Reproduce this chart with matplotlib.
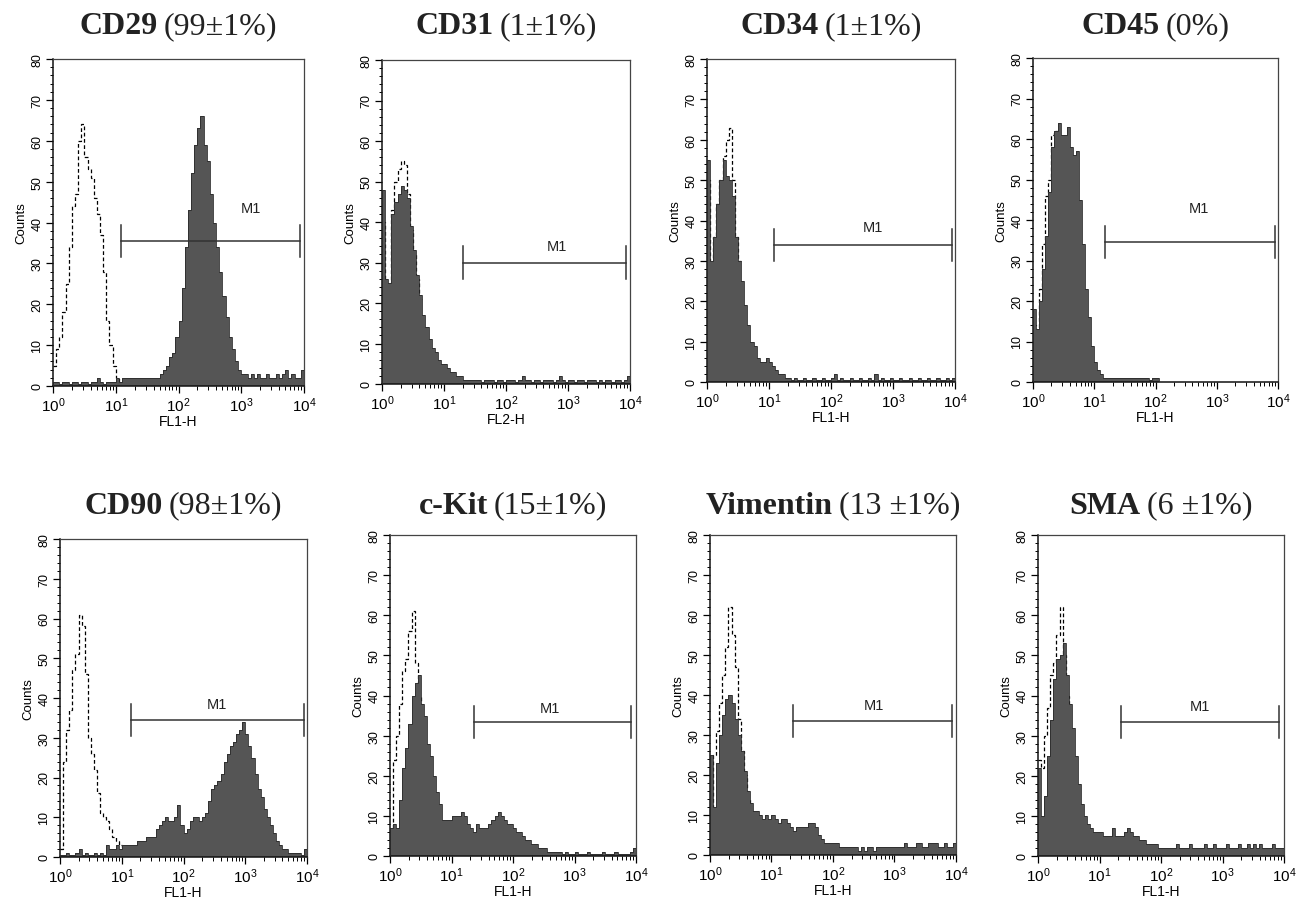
#!/usr/bin/env python3
"""Flow cytometry histograms: surface marker panel (2 x 4)."""

import matplotlib
matplotlib.use("Agg")
import matplotlib.pyplot as plt
import numpy as np
from matplotlib.ticker import FixedLocator, LogLocator, FuncFormatter, NullFormatter

# ---- data -----------------------------------------------------------------
MARKERS = ["CD29", "CD31", "CD34", "CD45", "CD90", "c-Kit", "Vimentin", "SMA"]
PERCENT = ["(99\u00b11%)", "(1\u00b11%)", "(1\u00b11%)", "(0%)",
           "(98\u00b11%)", "(15\u00b11%)", "(13 \u00b11%)", "(6 \u00b11%)"]
CHANNEL = ["FL1-H", "FL2-H", "FL1-H", "FL1-H", "FL1-H", "FL1-H", "FL1-H", "FL1-H"]

# counts per log channel (80 channels over 10^0 .. 10^4), stained sample
STAINED = [
    [1, 1, 0.5, 1, 1, 0.5, 1, 1, 0.5, 1, 1, 0.5, 1, 1, 2, 1, 0.5, 1, 1, 1,
     2, 1, 2, 2, 2, 2, 2, 2, 2, 2, 2, 2, 2, 2, 3, 4, 5, 7, 8, 12,
     16, 24, 34, 43, 52, 59, 63, 66, 59, 55, 47, 40, 34, 28, 22, 17, 12, 9, 6, 4,
     3, 3, 2, 3, 2, 3, 2, 2, 3, 2, 2, 3, 2, 3, 4, 2, 3, 2, 2, 4],
    [48, 26, 25, 42, 45, 47, 49, 48, 46, 39, 33, 27, 22, 17, 14, 11, 9, 8, 6, 5,
     5, 4, 3, 3, 2, 2, 1, 1, 1, 1, 1, 1, 0.5, 1, 1, 1, 0.5, 1, 1, 0.5,
     1, 1, 1, 0.5, 1, 2, 1, 1, 0.5, 1, 1, 0.5, 1, 1, 1, 0.5, 1, 2, 1, 0.5,
     1, 1, 0.5, 1, 1, 0.5, 1, 1, 1, 0.5, 1, 0.5, 1, 1, 0.5, 1, 1, 0.5, 1, 2],
    [55, 30, 36, 44, 50, 55, 51, 50, 46, 36, 30, 25, 19, 14, 10, 9, 6, 5, 5, 6,
     5, 4, 3, 2, 2, 1, 1, 0.5, 1, 0.5, 0.5, 1, 0.5, 0.5, 1, 0.5, 0.5, 1, 0.5, 0.5,
     1, 2, 0.5, 1, 0.5, 0.5, 1, 0.5, 0.5, 1, 0.5, 0.5, 1, 0.5, 2, 0.5, 1, 0.5, 0.5, 1,
     0.5, 0.5, 1, 0.5, 0.5, 1, 0.5, 0.5, 1, 0.5, 0.5, 1, 0.5, 0.5, 1, 0.5, 0.5, 1, 0.5, 1],
    [18, 13, 20, 28, 36, 47, 58, 62, 64, 61, 61, 63, 58, 56, 57, 45, 34, 23, 16, 9,
     5, 3, 2, 1, 1, 1, 1, 1, 1, 1, 1, 1, 1, 1, 1, 1, 1, 1, 0.5, 1,
     1, 0, 0, 0, 0, 0, 0, 0, 0, 0, 0, 0, 0, 0, 0, 0, 0, 0, 0, 0,
     0, 0, 0, 0, 0, 0, 0, 0, 0, 0, 0, 0, 0, 0, 0, 0, 0, 0, 0, 0],
    [0.5, 0.5, 1, 0.5, 0.5, 1, 2, 0.5, 1, 0.5, 0.5, 1, 0.5, 1, 0.5, 3, 2, 2, 3, 2,
     3, 3, 3, 3, 3, 4, 4, 4, 5, 5, 5, 7, 8, 9, 10, 9, 9, 10, 13, 8,
     6, 7, 9, 10, 10, 9, 10, 11, 14, 17, 18, 19, 21, 24, 26, 28, 29, 31, 32, 34,
     31, 28, 25, 21, 17, 15, 12, 10, 8, 6, 4, 3, 2, 2, 1, 1, 1, 1, 0.5, 2],
    [7, 8, 7, 14, 22, 27, 33, 40, 43, 45, 38, 35, 28, 25, 20, 16, 13, 9, 9, 9,
     10, 10, 10, 11, 10, 8, 7, 6, 8, 7, 7, 7, 8, 9, 10, 11, 10, 9, 8, 8,
     7, 6, 6, 5, 4, 4, 3, 3, 2, 2, 2, 1, 1, 1, 1, 1, 0.5, 1, 0.5, 0.5,
     1, 0.5, 0.5, 0.5, 1, 0.5, 0.5, 0.5, 0.5, 1, 0.5, 0.5, 0.5, 1, 0.5, 0.5, 0.5, 0.5, 1, 2],
    [25, 12, 23, 30, 35, 39, 40, 38, 34, 30, 26, 21, 16, 13, 11, 11, 10, 9, 10, 9,
     10, 9, 8, 9, 9, 8, 7, 6, 7, 7, 7, 7, 8, 8, 7, 5, 4, 3, 3, 3,
     3, 3, 2, 2, 2, 2, 2, 2, 1, 2, 1, 2, 2, 1, 2, 2, 2, 2, 2, 2,
     2, 2, 2, 3, 2, 2, 2, 3, 3, 2, 2, 3, 3, 3, 2, 2, 3, 2, 2, 3],
    [22, 10, 15, 25, 34, 44, 49, 50, 53, 45, 38, 32, 25, 18, 13, 10, 8, 7, 6, 6,
     6, 5, 5, 5, 7, 5, 5, 5, 6, 7, 6, 5, 5, 4, 4, 3, 3, 3, 3, 2,
     2, 2, 2, 2, 2, 3, 2, 2, 2, 3, 2, 2, 2, 2, 3, 2, 2, 3, 2, 2,
     2, 3, 2, 2, 2, 3, 2, 2, 3, 2, 3, 2, 3, 2, 2, 2, 3, 2, 2, 2],
]

# isotype control (dashed), first channels only
CONTROL = [
    [5, 9, 12, 18, 25, 34, 44, 47, 60, 64, 56, 53, 51, 46, 42, 37, 28, 16, 10, 5, 2, 1, 1, 0],
    [40, 24, 24, 43, 50, 53, 55, 54, 47, 38, 32, 26, 21],
    [50, 28, 36, 44, 50, 56, 60, 63, 50, 36, 30],
    [14, 10, 23, 34, 46, 50, 61, 62, 60],
    [2, 24, 32, 37, 47, 51, 61, 58, 46, 30, 26, 22, 16, 11, 10, 9, 7, 5, 4, 3, 2, 1, 0],
    [3, 24, 30, 38, 46, 49, 56, 61, 48, 40, 30, 22, 16, 11, 7, 4, 2, 1],
    [3, 25, 31, 38, 45, 52, 62, 55, 47, 34, 26, 20, 14, 10, 6, 4, 2, 1],
    [24, 22, 30, 37, 45, 48, 55, 62, 50, 40, 30, 22, 15, 10, 6, 3, 1],
]

# M1 gate (fluorescence range and height in counts) and its label
M1_START = [12, 20, 12, 15, 14, 23, 22, 22]
M1_END = [8700, 8700, 8900, 8900, 9100, 8300, 8500, 8300]
M1_Y = [35.5, 30, 34, 34.5, 34.5, 33.5, 33.5, 33.5]
M1_LABEL_X = [1450, 660, 480, 520, 350, 400, 460, 430]
M1_LABEL_Y = [43.5, 34, 38.5, 43, 38.5, 37, 37.5, 37.5]

# ---- style ----------------------------------------------------------------
plt.rcParams.update({
    "font.family": "Liberation Sans",
    "mathtext.fontset": "custom",
    "mathtext.rm": "Liberation Sans",
    "mathtext.it": "Liberation Sans",
    "mathtext.bf": "Liberation Sans:bold",
})
FILL = "#555555"
EDGE = "#2b2b2b"

W, H = 1300, 904
fig = plt.figure(figsize=(W / 100, H / 100), dpi=100)

# axes boxes in pixels: left, right, top, bottom
BOXES = [
    (53, 304, 60, 387), (382, 630, 61, 385), (707, 955, 60, 383), (1033, 1278, 59, 383),
    (60, 307, 540, 858), (390, 636, 536, 857), (710, 956, 536, 856), (1038, 1284, 536, 857),
]
TITLE_Y = [27, 27, 27, 27, 506, 506, 506, 506]

edges = 10 ** np.linspace(0, 4, 81)


def fmt_decade(v, pos):
    return r"$\mathdefault{10^{%d}}$" % round(np.log10(v))


renderer = fig.canvas.get_renderer()

for i in range(8):
    l, r, t, b = BOXES[i]
    ax = fig.add_axes([l / W, 1 - b / H, (r - l) / W, (b - t) / H])

    ctrl = CONTROL[i]
    ax.stairs(ctrl, edges[:len(ctrl) + 1], baseline=None, color="black",
              lw=0.9, ls=(0, (3, 2)), zorder=1)
    ax.stairs(STAINED[i], edges, fill=True, color=FILL, zorder=2)
    ax.stairs(STAINED[i], edges, color=EDGE, lw=0.6, zorder=3)

    # M1 gate
    y = M1_Y[i]
    ax.plot([M1_START[i], M1_END[i]], [y, y], color="#333333", lw=1.1, zorder=4)
    for xe in (M1_START[i], M1_END[i]):
        ax.plot([xe, xe], [y - 4, y + 4], color="#333333", lw=1.1, zorder=4)
    ax.text(M1_LABEL_X[i], M1_LABEL_Y[i], "M1", ha="center", va="center",
            fontsize=10.5, color="#222222")

    ax.set_xscale("log")
    ax.set_xlim(1, 1e4)
    ax.set_ylim(0, 80)
    ax.xaxis.set_major_locator(FixedLocator([1, 10, 100, 1000, 10000]))
    ax.xaxis.set_major_formatter(FuncFormatter(fmt_decade))
    ax.xaxis.set_minor_locator(LogLocator(base=10, subs=np.arange(2, 10)))
    ax.xaxis.set_minor_formatter(NullFormatter())
    ax.set_yticks(np.arange(0, 81, 10))
    ax.set_yticks(np.arange(0, 81, 2), minor=True)
    ax.tick_params(axis="x", which="major", labelsize=11, length=5, width=0.9,
                   direction="out", pad=2)
    ax.tick_params(axis="x", which="minor", length=3, width=0.7, direction="out")
    ax.tick_params(axis="y", which="major", labelsize=9, length=5, width=0.9,
                   direction="out", labelrotation=90, pad=2)
    ax.tick_params(axis="y", which="minor", length=2.5, width=0.7, direction="out")
    for lab in ax.get_yticklabels():
        lab.set_va("center")

    for side in ("left", "bottom"):
        ax.spines[side].set_linewidth(1.1)
        ax.spines[side].set_color("#111111")
    for side in ("top", "right"):
        ax.spines[side].set_linewidth(0.9)
        ax.spines[side].set_color("#444444")

    ax.set_xlabel(CHANNEL[i], fontsize=10, labelpad=0)
    ax.set_ylabel("Counts", fontsize=9.5, labelpad=3)

    # two-part title: bold marker name + regular percentage
    xc = (l + r) / 2 / W
    ty = 1 - TITLE_Y[i] / H
    t1 = fig.text(0, ty, MARKERS[i], fontsize=23, fontweight="bold",
                  family="Liberation Serif", va="center", color="#222222")
    t2 = fig.text(0, ty, PERCENT[i], fontsize=23, family="Liberation Serif",
                  va="center", color="#222222")
    w1 = t1.get_window_extent(renderer).width / W
    w2 = t2.get_window_extent(renderer).width / W
    gap = 6 / W
    x0 = xc - (w1 + gap + w2) / 2
    t1.set_x(x0)
    t2.set_x(x0 + w1 + gap)

fig.savefig("out.png", dpi=100)
